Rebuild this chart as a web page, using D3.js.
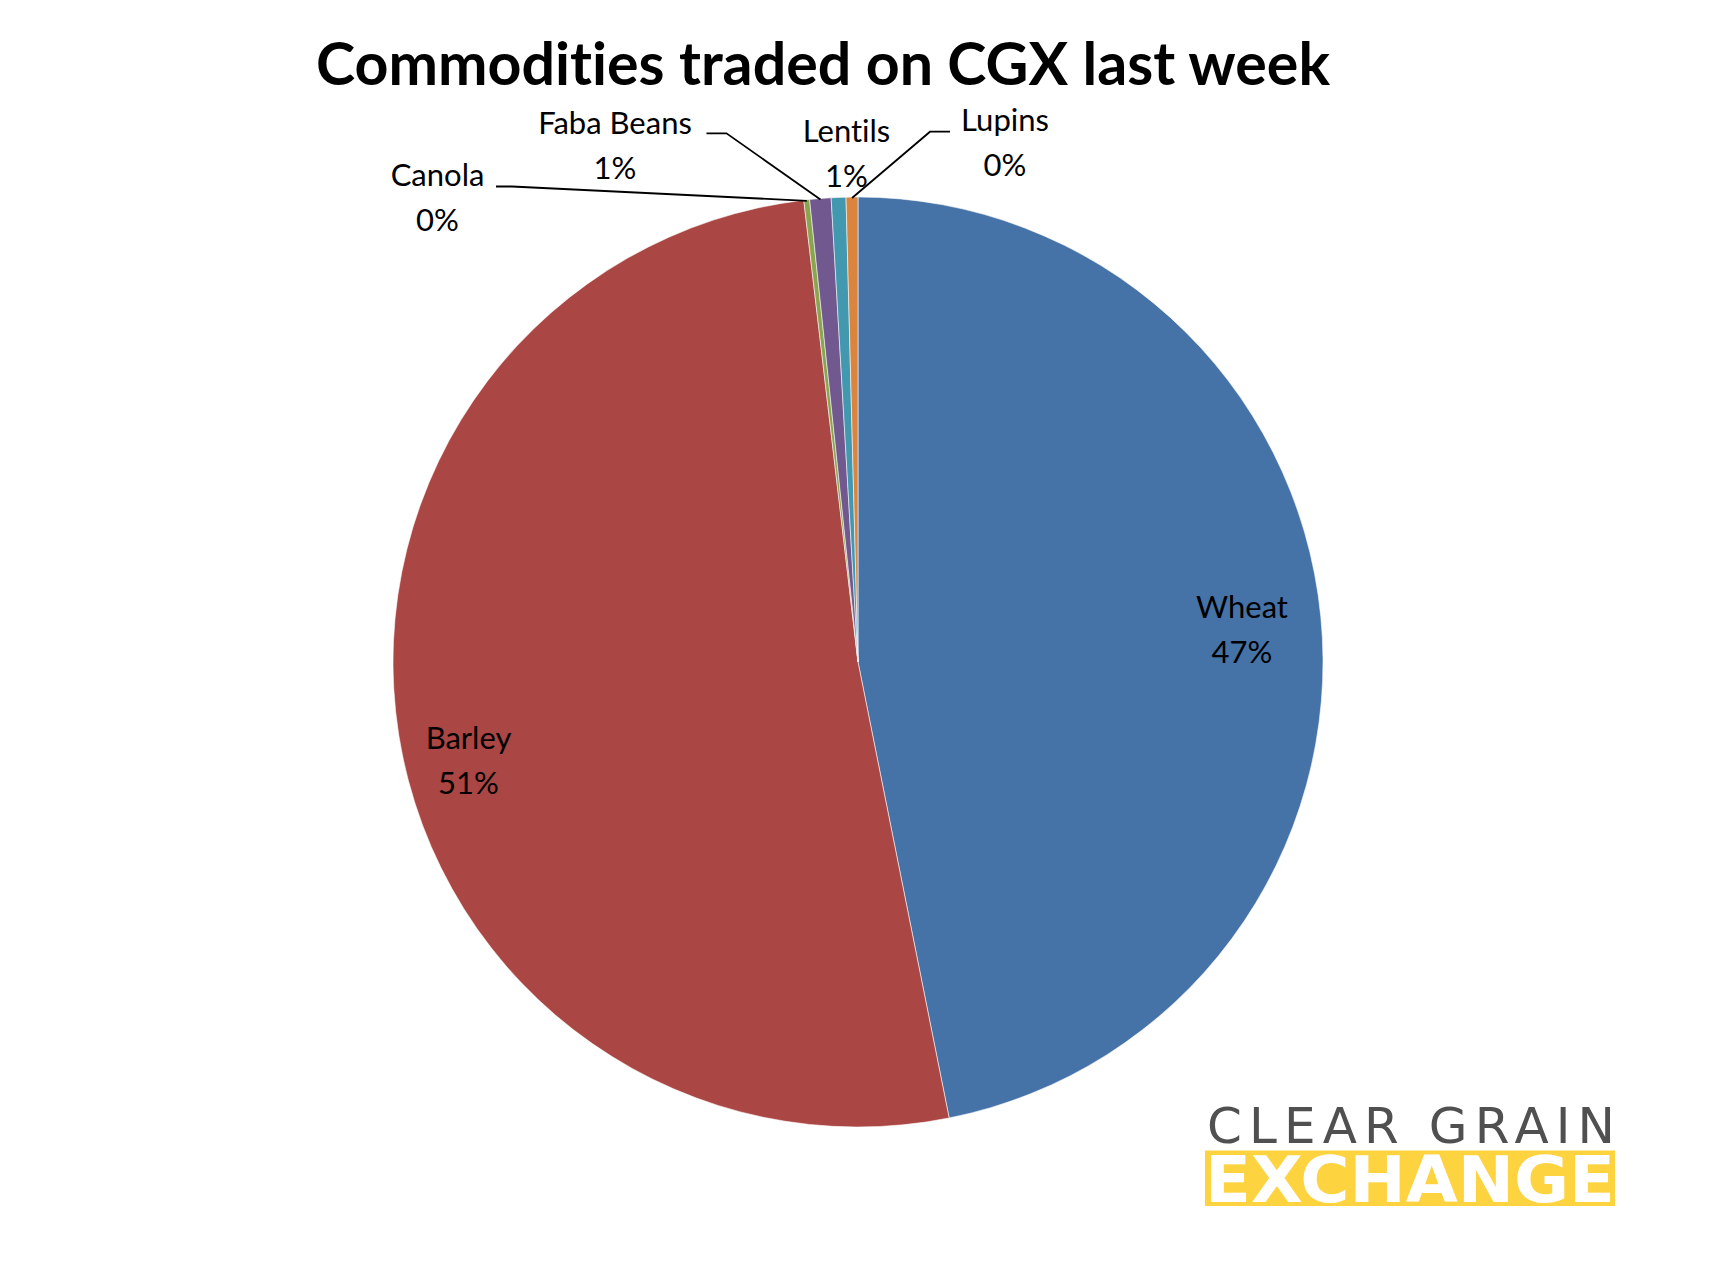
<!DOCTYPE html>
<html>
<head>
<meta charset="utf-8">
<script src="https://cdn.jsdelivr.net/npm/d3@7"></script>
<style>
  html, body { margin: 0; padding: 0; background: #ffffff; }
  svg { display: block; }
  text { font-variant-ligatures: none; font-feature-settings: "liga" 0, "clig" 0; }
</style>
</head>
<body>
<svg id="chart" width="1716" height="1288"></svg>
<script>
// ---- data ----
const categories = ["Wheat", "Barley", "Canola", "Faba Beans", "Lentils", "Lupins"];
const values = [46.86, 51.28, 0.20, 0.74, 0.51, 0.41];
const colors = ["#4572A7", "#AA4643", "#89A54E", "#71588F", "#4198AF", "#DB843D"];
const titleText = "Commodities traded on CGX last week";
const logoTop = "CLEAR GRAIN";
const logoBottom = "EXCHANGE";

// ---- layout (positions only) ----
const W = 1716, H = 1288;
const cx = 858, cy = 662, R = 465;
// label anchor: centre x, baseline of the name line
const labelPos = {
  "Wheat":      [1242, 617.5],
  "Barley":     [468.5, 748.5],
  "Canola":     [437.5, 186],
  "Faba Beans": [615, 133.5],
  "Lentils":    [846.5, 141.5],
  "Lupins":     [1005, 130.5]
};
// leader line label-side points (outer end, knee)
const leaderPts = {
  "Canola":     [[496, 186.5], [512, 186.5]],
  "Faba Beans": [[706.5, 133.3], [726.5, 133.3]],
  "Lupins":     [[950, 131.7], [930, 131.7]]
};
const lineGap = 45;

const svg = d3.select("#chart");
svg.append("rect").attr("width", W).attr("height", H).attr("fill", "#fff");

const data = categories.map((c, i) => ({ name: c, value: values[i], color: colors[i] }));
const total = d3.sum(values);
const pct = d3.format(".0%");

const pie = d3.pie().sort(null).value(d => d.value);
const arcs = pie(data);
const arc = d3.arc().innerRadius(0).outerRadius(R);
const rim = d3.arc().innerRadius(R - 1).outerRadius(R - 1);

const g = svg.append("g").attr("transform", `translate(${cx},${cy})`);
g.selectAll("path.slice")
  .data(arcs)
  .join("path")
  .attr("class", "slice")
  .attr("d", arc)
  .attr("fill", d => d.data.color)
  .attr("stroke", "#ffffff")
  .attr("stroke-width", 0.8)
  .attr("stroke-opacity", 0.7);

// leader lines
const line = d3.line();
arcs.forEach(a => {
  const lp = leaderPts[a.data.name];
  if (!lp) return;
  const c = rim.centroid(a);
  const p = [c[0] + cx, c[1] + cy];
  svg.append("path")
    .attr("d", line([lp[0], lp[1], p]))
    .attr("fill", "none")
    .attr("stroke", "#000")
    .attr("stroke-width", 1.8);
});

// labels
const labelFont = "Lato, 'Open Sans', sans-serif";
arcs.forEach(a => {
  const pos = labelPos[a.data.name];
  const t = svg.append("text")
    .attr("text-anchor", "middle")
    .attr("font-family", labelFont)
    .attr("font-size", 31)
    .attr("fill", "#000");
  t.append("tspan").attr("x", pos[0]).attr("y", pos[1]).text(a.data.name);
  t.append("tspan").attr("x", pos[0]).attr("y", pos[1] + lineGap).text(pct(a.data.value / total));
});

// title
svg.append("text")
  .attr("x", 316).attr("y", 85)
  .attr("font-family", "Lato, 'Open Sans', sans-serif")
  .attr("font-weight", 700)
  .attr("font-size", 60)
  .attr("fill", "#000")
  .attr("textLength", 1014)
  .attr("lengthAdjust", "spacingAndGlyphs")
  .text(titleText);

// logo
const logoX0 = 1205, logoX1 = 1615;
svg.append("rect")
  .attr("x", logoX0).attr("y", 1150.5)
  .attr("width", logoX1 - logoX0).attr("height", 55.5)
  .attr("fill", "#FDD340");
const logo = svg.append("text")
  .attr("font-family", "'DejaVu Sans', sans-serif");
logo.append("tspan")
  .attr("x", logoX0 + 2).attr("y", 1143)
  .attr("font-size", 50)
  .attr("fill", "#505050")
  .attr("textLength", logoX1 - logoX0 - 2)
  .attr("lengthAdjust", "spacing")
  .text(logoTop);
logo.append("tspan")
  .attr("x", logoX0).attr("y", 1201.5)
  .attr("font-weight", 700)
  .attr("font-size", 64)
  .attr("fill", "#ffffff")
  .attr("textLength", logoX1 - logoX0)
  .attr("lengthAdjust", "spacingAndGlyphs")
  .text(logoBottom);
</script>
</body>
</html>
